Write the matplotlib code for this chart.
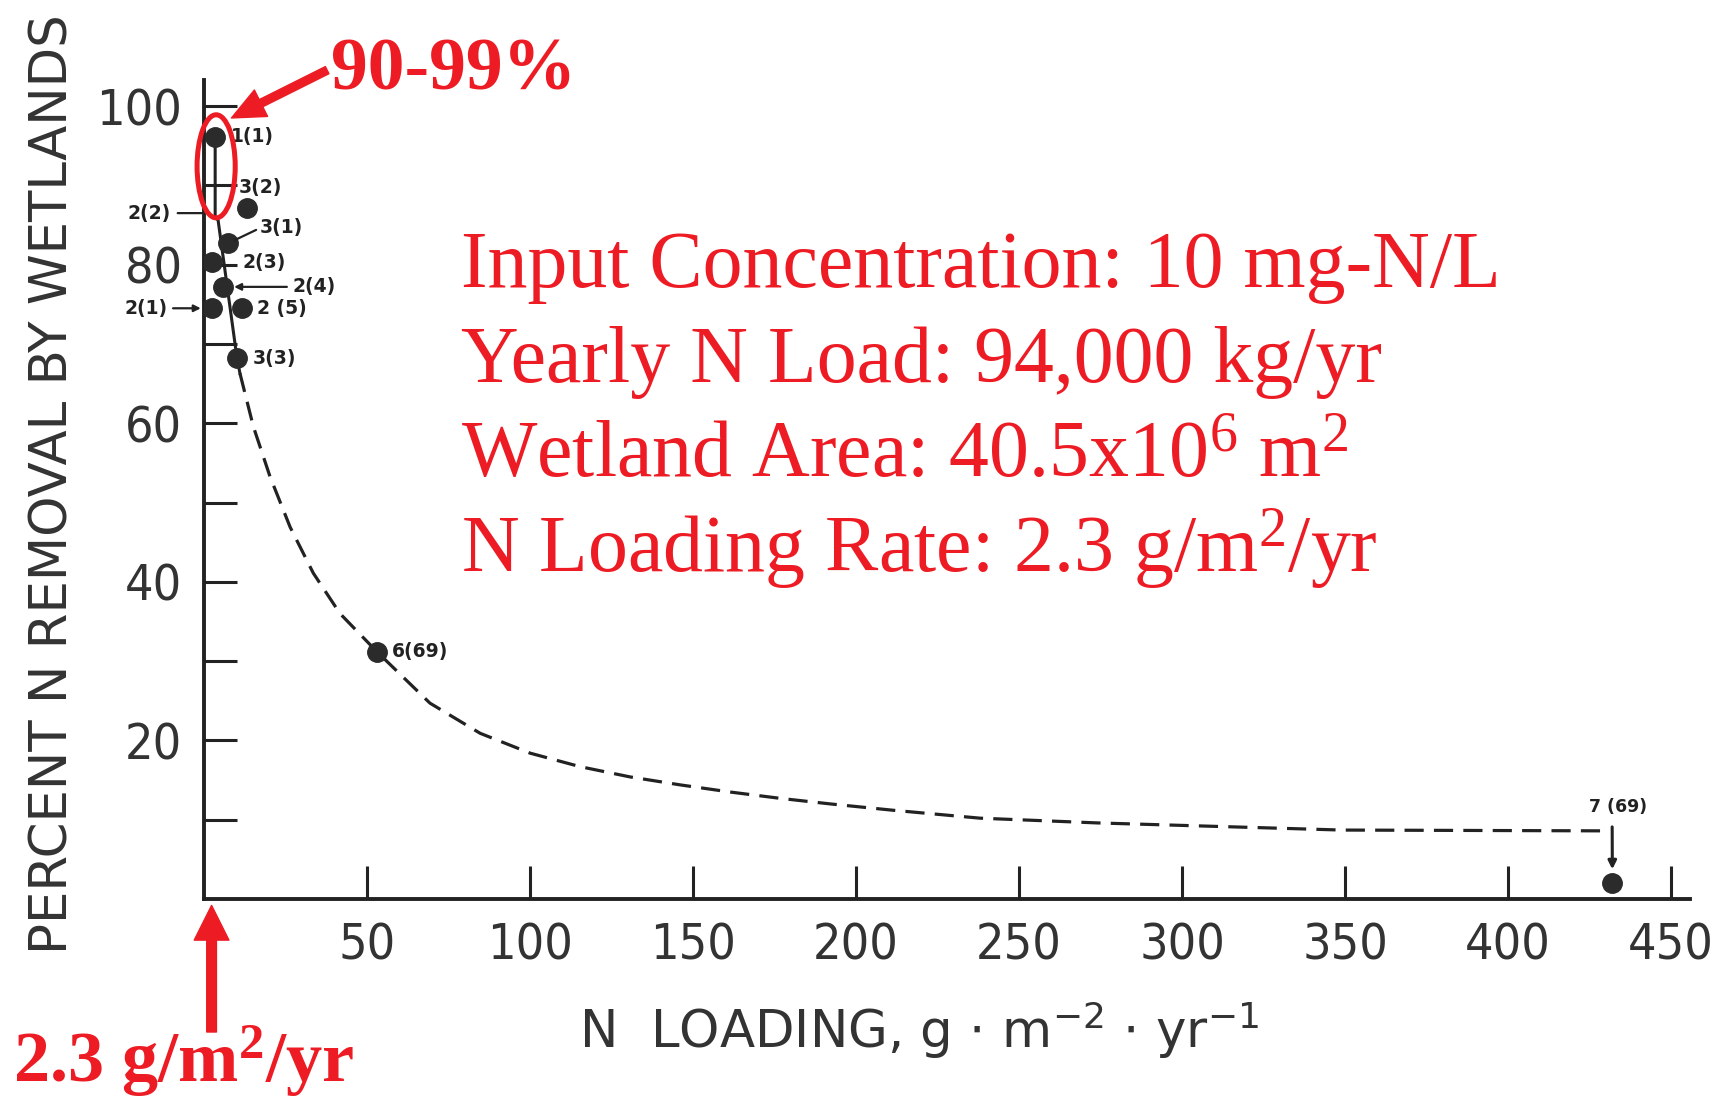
import matplotlib
matplotlib.use("Agg")
import matplotlib.pyplot as plt
from matplotlib import font_manager
from matplotlib.patches import Ellipse

# N removal by wetlands vs N loading
site_ids = ["1(1)", "3(2)", "3(1)", "2(3)", "2(4)", "2(1)", "2 (5)", "3(3)", "6(69)", "7 (69)"]
site_x = [3.4, 13.1, 7.4, 2.4, 5.8, 2.4, 11.6, 10.1, 53.0, 432]
site_y = [96.1, 87.1, 82.7, 80.3, 77.2, 74.5, 74.5, 68.2, 31.2, 2.0]

# solid part of the trend line and the dashed fitted curve
trend_x = [3.4, 3.4, 4.3, 10.1, 11.0]
trend_y = [96.1, 86.0, 85.6, 68.2, 66.3]
curve_x = [11.0, 15.1, 20.2, 26.4, 33.5, 41.7, 53.0, 69.3, 84.7, 100, 115.3, 130.7,
           146, 161.3, 176.7, 192, 211.3, 238, 274, 349, 428.5]
curve_y = [66.3, 59.6, 53.3, 46.9, 41.1, 36.0, 31.2, 24.7, 20.9, 18.4, 16.7, 15.4,
           14.4, 13.5, 12.7, 12.0, 11.2, 10.2, 9.6, 8.7, 8.6]

x_ticks = [50, 100, 150, 200, 250, 300, 350, 400, 450]
y_ticks = [20, 40, 60, 80, 100]
y_minor = [10, 30, 50, 70, 90]

loading_rate = 2.3   # g/m2/yr
info_lines = ["Input Concentration: 10 mg-N/L",
              "Yearly N Load: 94,000 kg/yr",
              "Wetland Area: 40.5x10$^6$ m$^2$",
              "N Loading Rate: 2.3 g/m$^2$/yr"]

red = "#ED1C24"
ink = "#222222"

# narrow face for the tick numbers, whichever is installed
faces = font_manager.fontManager.ttflist
names = {f.name for f in faces}
tick_font = dict(family="DejaVu Sans", stretch="normal", weight="normal", size=30)
if "Liberation Sans Narrow" in names:
    tick_font = dict(family="Liberation Sans Narrow", stretch="normal", weight="normal", size=38)
elif any(f.name == "DejaVu Sans" and f.stretch == "condensed" for f in faces):
    tick_font = dict(family="DejaVu Sans", stretch="condensed", weight="normal", size=36)
elif "Roboto" in names:
    light = any(f.name == "Roboto" and f.weight in (300, "light") for f in faces)
    tick_font = dict(family="Roboto", stretch="normal", weight="light" if light else "normal", size=35)

plt.rcParams["mathtext.default"] = "regular"

fig = plt.figure(figsize=(17.31, 10.96), dpi=100)
ax = fig.add_axes([0.1179, 0.1797, 0.8584, 0.7474])

ax.plot(trend_x, trend_y, color=ink, lw=2.2, zorder=2)
ax.plot(curve_x, curve_y, color=ink, lw=2.3, dashes=(6, 3.2), zorder=2)
ax.plot(site_x, site_y, "o", ms=14, color="#2b2b2b", zorder=3)

# labels next to the points (offsets in points)
offsets = {"1(1)": (11, 0), "3(2)": (-6, 15), "2(3)": (22, 0),
           "2 (5)": (11, 0), "3(3)": (11, 0), "6(69)": (11, 0)}
for name, x, y in zip(site_ids, site_x, site_y):
    if name in offsets:
        ax.annotate(name, (x, y), xytext=offsets[name], textcoords="offset points",
                    ha="left", va="center", fontsize=13.5, fontweight="bold", color=ink)

lbl = dict(fontsize=13.5, fontweight="bold", color=ink, va="center")
ax.annotate("3(1)", (site_x[2], site_y[2]), xytext=(23, 11), textcoords="offset points",
            ha="left", arrowprops=dict(arrowstyle="-", lw=1.6, color=ink,
                                       relpos=(0, 0.5), shrinkA=1, shrinkB=5), **lbl)
ax.annotate("2(4)", (site_x[4], site_y[4]), xytext=(50, 0), textcoords="offset points",
            ha="left", arrowprops=dict(arrowstyle="-|>", lw=1.6, color=ink, mutation_scale=10,
                                       relpos=(0, 0.5), shrinkA=2, shrinkB=8), **lbl)
ax.annotate("2(1)", (site_x[5], site_y[5]), xytext=(-32, 0), textcoords="offset points",
            ha="right", arrowprops=dict(arrowstyle="-|>", lw=1.6, color=ink, mutation_scale=10,
                                        relpos=(1, 0.5), shrinkA=2, shrinkB=8), **lbl)
ax.annotate("7 (69)", (site_x[9], site_y[9]), xytext=(4, 55), textcoords="offset points",
            ha="center", fontsize=12.5, fontweight="bold", color=ink, va="center",
            arrowprops=dict(arrowstyle="-|>", lw=2.2, color=ink, mutation_scale=12,
                            relpos=(0.4, 0), shrinkA=6, shrinkB=10))
ax.annotate("2(2)", (0, 86.5), xytext=(-24, 0), textcoords="offset points", ha="right",
            annotation_clip=False,
            arrowprops=dict(arrowstyle="-", lw=1.6, color=ink, relpos=(1, 0.5),
                            shrinkA=3, shrinkB=0), **lbl)

ax.set_xlim(0, 455.8)
ax.set_ylim(0, 103.3)
ax.set_xticks(x_ticks)
ax.set_yticks(y_ticks)
ax.set_yticks(y_minor, minor=True)
ax.tick_params(axis="both", which="both", direction="in", length=24, width=2.2,
               color=ink, labelcolor="#333333", pad=16)
for t in ax.get_xticklabels() + ax.get_yticklabels():
    t.set_fontfamily(tick_font["family"])
    t.set_fontstretch(tick_font["stretch"])
    t.set_fontweight(tick_font["weight"])
    t.set_fontsize(tick_font["size"])
for side in ["top", "right"]:
    ax.spines[side].set_visible(False)
for side in ["left", "bottom"]:
    ax.spines[side].set_linewidth(2.8)
    ax.spines[side].set_color(ink)

fig.text(0.0309, 0.558, "PERCENT N REMOVAL BY WETLANDS", rotation=90,
         ha="center", va="center", fontsize=37, color="#333333")
fig.text(0.531, 0.0438, "N  LOADING, g $\\cdot$ m$^{-2}$ $\\cdot$ yr$^{-1}$",
         ha="center", va="baseline", fontsize=37, color="#333333")

# red annotations
ax.add_patch(Ellipse((3.7, 92.4), 11.7, 13.0, fill=False, ec=red, lw=3.6,
                     clip_on=False, zorder=5))
ax.annotate("", xy=(8.4, 98.5), xycoords="data", xytext=(0.189, 0.936),
            textcoords="figure fraction",
            arrowprops=dict(arrowstyle="simple,head_length=0.95,head_width=0.85,tail_width=0.23",
                            color=red, mutation_scale=25, shrinkA=0, shrinkB=0))
fig.text(331 / 1731, 1 - 90 / 1096, "90-99%", family="Liberation Serif",
         fontweight="bold", fontsize=53, color=red, va="baseline")

ax.annotate("", xy=(loading_rate, -0.8), xycoords="data",
            xytext=(loading_rate, 1 - 1032 / 1096), textcoords=("data", "figure fraction"),
            annotation_clip=False,
            arrowprops=dict(arrowstyle="simple,head_length=1.0,head_width=1.0,tail_width=0.28",
                            color=red, mutation_scale=25, shrinkA=0, shrinkB=0))
fig.text(13 / 1731, 1 - 1082 / 1096, "2.3 g/m$^2$/yr", family="Liberation Serif",
         fontweight="bold", fontsize=52, color=red, va="baseline")

for i, line in enumerate(info_lines):
    fig.text(461 / 1731, 1 - (287 + 95.3 * i) / 1096, line, family="Liberation Serif",
             fontsize=57.5, color=red, va="baseline")

fig.savefig("out.png", dpi=100)
